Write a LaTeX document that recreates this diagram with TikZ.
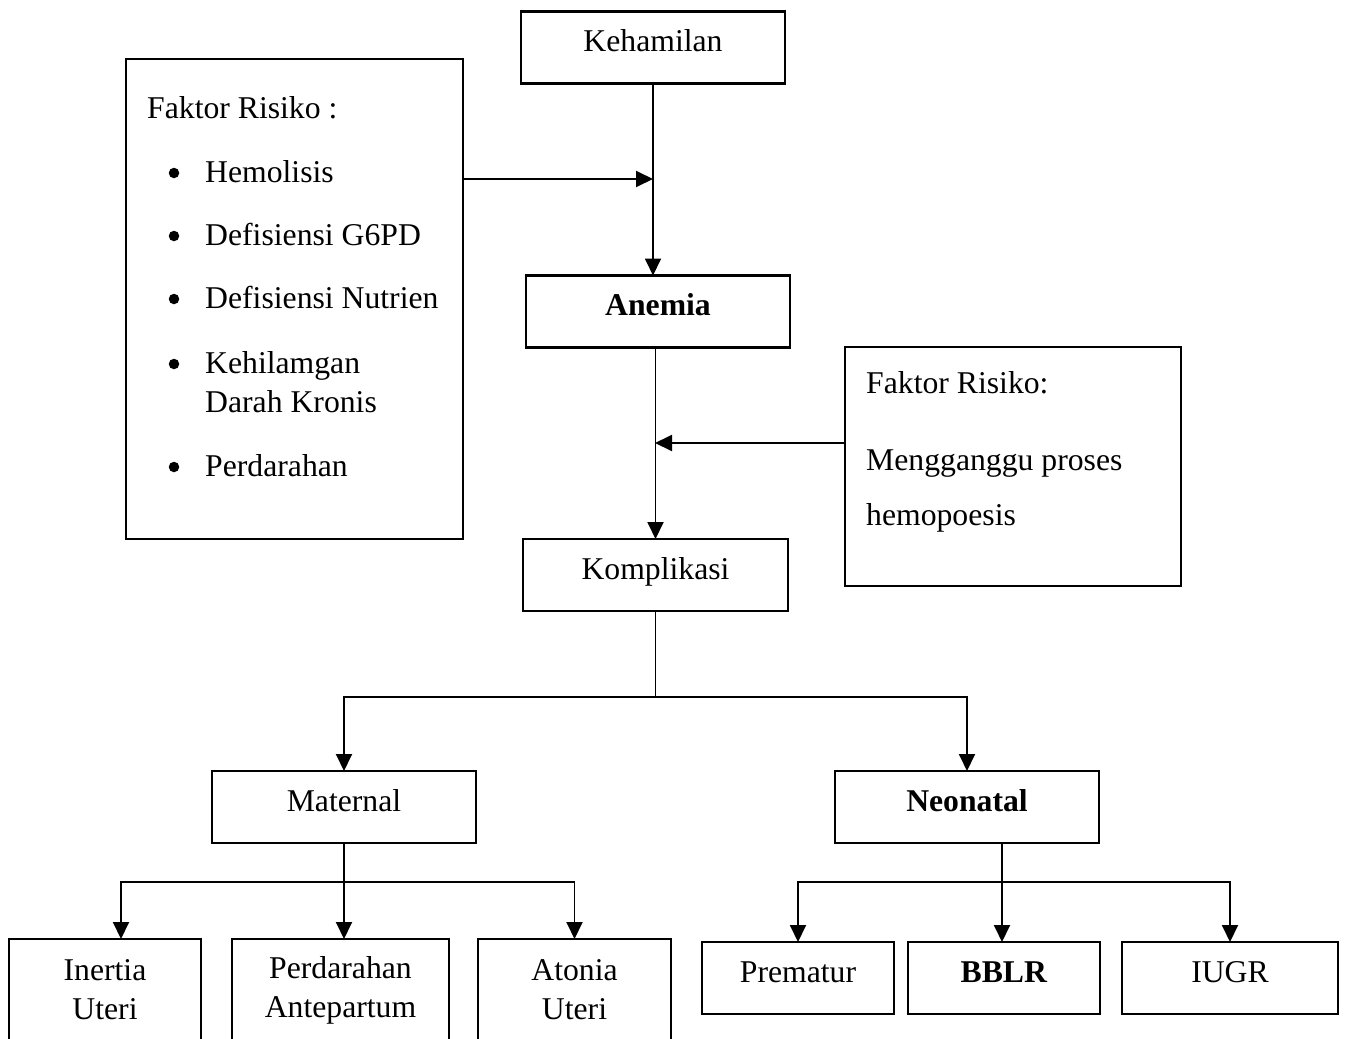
\documentclass[tikz,border=0pt]{standalone}
\usepackage{fontspec}
\setmainfont{Liberation Serif}
\usepackage{tikz}
\usetikzlibrary{positioning,arrows.meta}

\begin{document}
\begin{tikzpicture}[
    x=1pt, y=-1pt,
    every node/.style={font=\fontsize{31.7}{39}\selectfont},
    flowbox/.style={
      draw,
      line width=2.6pt,
      inner sep=0pt,
      outer sep=0pt,
      minimum width=264pt,
      minimum height=72pt,
      text height=20.5pt,
      text depth=12.5pt
    },
    tallbox/.style={
      draw,
      line width=2.6pt,
      inner sep=0pt,
      outer sep=0pt,
      minimum height=102pt,
      align=center
    },
    riskbox/.style={
      draw,
      line width=2.2pt,
      inner sep=0pt,
      outer sep=0pt
    },
    risktext/.style={
      inner sep=0pt,
      anchor=base west
    },
    riskdot/.style={
      circle,
      fill,
      inner sep=0pt,
      minimum size=10.5pt
    },
    flowlink/.style={
      line width=1.9pt
    },
    flowarrow/.style={
      -{Triangle[length=17pt,width=16pt]},
      line width=1.9pt
    }
  ]

  \path[fill=white, use as bounding box] (0,0) rectangle (1345,1039);

  \node[flowbox] (keh) at (653,47.5) {Kehamilan};
  \node[flowbox] (anemia) at (658,311.5) {\textbf{Anemia}};
  \node[flowbox, minimum width=265pt] (komp) at (655.5,575) {Komplikasi};
  \node[flowbox] (mat) at (344,807) {Maternal};
  \node[flowbox] (neo) at (967,807) {\textbf{Neonatal}};

  \node[riskbox, minimum width=337pt, minimum height=480pt] (riskleft) at (294.5,299) {};
  \node[risktext] (rl0) at (147,118) {Faktor Risiko :};
  \foreach \y in {182,245,308,373,476}
    \node[riskdot] (dot\y) at (174,\y-9) {};
  \node[risktext] (rl1) at (205,182) {Hemolisis};
  \node[risktext] (rl2) at (205,245) {Defisiensi G6PD};
  \node[risktext] (rl3) at (205,308) {Defisiensi Nutrien};
  \node[risktext] (rl4) at (205,373) {Kehilamgan};
  \node[risktext] (rl5) at (205,412) {Darah Kronis};
  \node[risktext] (rl6) at (205,476) {Perdarahan};

  \node[riskbox, minimum width=336pt, minimum height=239pt] (riskright) at (1013,466.5) {};
  \node[risktext] (rr1) at (866,393) {Faktor Risiko:};
  \node[risktext] (rr2) at (866,470) {Mengganggu proses};
  \node[risktext] (rr3) at (866,525) {hemopoesis};

  \node[tallbox, minimum width=192pt] (inertia) at (105,990) {Inertia\\Uteri};
  \node[tallbox, minimum width=217pt] (perd) at (340.5,990) {Perdarahan\\Antepartum};
  \node[tallbox, minimum width=193pt] (aton) at (574.5,990) {Atonia\\Uteri};

  \node[flowbox, minimum width=192pt] (prem) at (798,978) {Prematur};
  \node[flowbox, minimum width=192pt] (bblr) at (1004,978) {\textbf{BBLR}};
  \node[flowbox, minimum width=216pt] (iugr) at (1230,978) {IUGR};

  \coordinate (joinA) at (653,179);
  \coordinate (joinB) at (655,443);
  \coordinate (kompsplit) at (655.5,697);
  \coordinate (matsplit) at (344,882);
  \coordinate (neosplit) at (1002,882);

  \draw[flowarrow] (keh.south) -- (keh.south |- anemia.north);
  \draw[flowarrow] (riskleft.east |- joinA) -- (joinA);
  \draw[flowarrow] (komp.north |- anemia.south) -- (komp.north);
  \draw[flowarrow] (riskright.west |- joinB) -- (joinB);

  \draw[flowlink] (komp.south) -- (kompsplit);
  \draw[flowarrow] (kompsplit) -| (mat.north);
  \draw[flowarrow] (kompsplit) -| (neo.north);

  \draw[flowlink] (mat.south) -- (matsplit);
  \draw[flowarrow] (matsplit) -| ([xshift=16pt]inertia.north);
  \draw[flowarrow] (matsplit) -- (matsplit |- perd.north);
  \draw[flowarrow] (matsplit) -| (aton.north);

  \draw[flowlink] (neo.south -| neosplit) -- (neosplit);
  \draw[flowarrow] (neosplit) -| (prem.north);
  \draw[flowarrow] (neosplit) -- (neosplit |- bblr.north);
  \draw[flowarrow] (neosplit) -| (iugr.north);

\end{tikzpicture}
\end{document}
